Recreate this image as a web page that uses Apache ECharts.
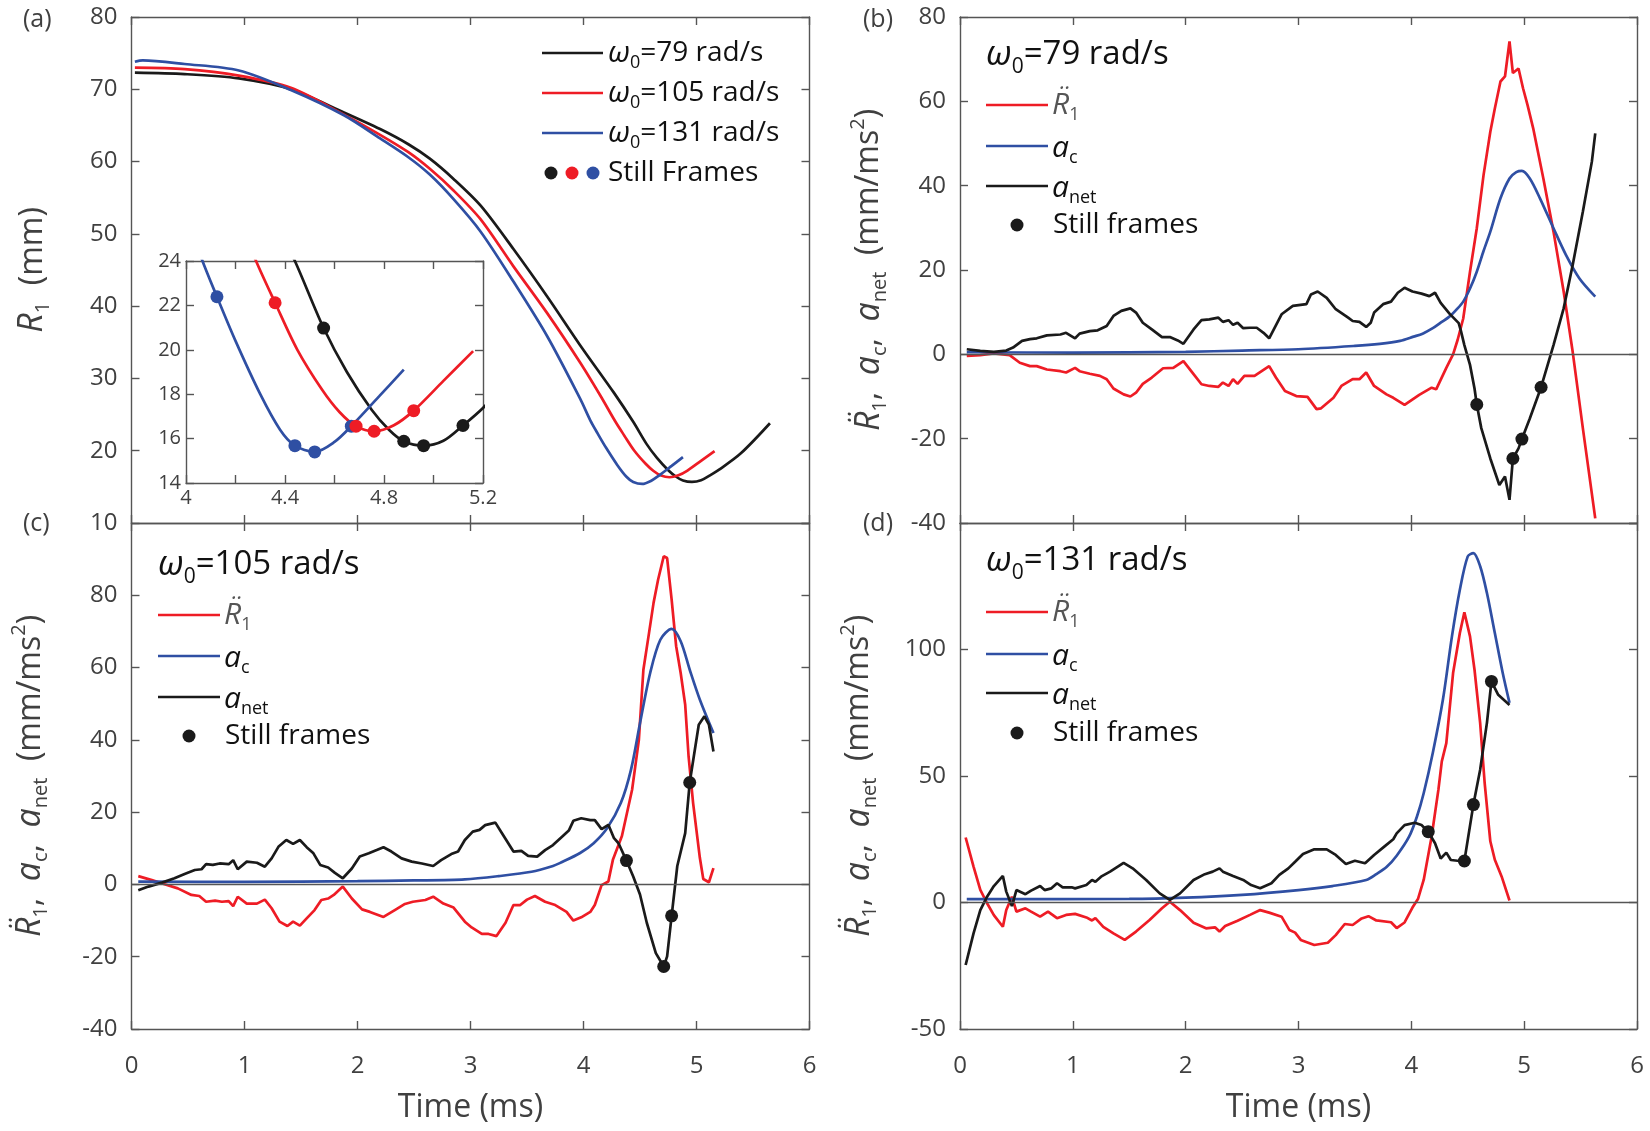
<!DOCTYPE html>
<html>
<head>
<meta charset="utf-8">
<script src="https://cdn.jsdelivr.net/npm/echarts@6.0.0/dist/echarts.min.js"></script>
<style>
  html, body { margin: 0; padding: 0; background: #fff; }
  #chart { width: 1650px; height: 1131px; }
</style>
</head>
<body>
<div id="chart"></div>
<script>
// ---- data: [time (ms), value] ----
// (a) bubble radius R1 (mm)
const r1W79 = [[0.03,72.3],[0.47,72.1],[0.95,71.5],[1.41,70.0],[1.88,66.8],[2.2,64.5],[2.45,62.4],[2.64,60.4],[2.85,57.6],[3.09,53.9],[3.38,47.9],[3.68,41.3],[3.97,34.6],[4.27,28.0],[4.44,24.0],[4.556,20.98],[4.65,19.0],[4.75,17.3],[4.82,16.4],[4.88,15.88],[4.96,15.68],[5.04,15.9],[5.119,16.59],[5.2,17.38],[5.39,19.6],[5.65,23.8]];
const r1W105 = [[0.03,73.0],[0.47,72.8],[0.95,71.9],[1.41,70.2],[1.88,66.5],[2.2,63.7],[2.45,61.3],[2.64,59.0],[2.85,56.0],[3.09,52.0],[3.38,45.5],[3.68,39.0],[3.97,32.2],[4.15,27.6],[4.283,24.0],[4.36,22.12],[4.45,20.0],[4.55,18.2],[4.62,17.2],[4.687,16.56],[4.76,16.33],[4.84,16.6],[4.92,17.26],[5.04,18.6],[5.16,19.94]];
const r1W131 = [[0.03,73.8],[0.1,74.0],[0.47,73.5],[0.95,72.6],[1.41,69.9],[1.88,66.4],[2.2,63.2],[2.45,60.6],[2.64,58.2],[2.85,54.8],[3.09,50.3],[3.38,43.4],[3.68,35.8],[3.97,27.2],[4.06,24.2],[4.125,22.39],[4.2,20.4],[4.3,18.0],[4.38,16.4],[4.44,15.68],[4.52,15.40],[4.6,15.85],[4.668,16.56],[4.78,17.9],[4.88,19.11]];
const framesA79 = [[4.556,20.98],[4.88,15.88],[4.96,15.68],[5.119,16.59]];
const framesA105 = [[4.36,22.12],[4.687,16.56],[4.76,16.33],[4.92,17.26]];
const framesA131 = [[4.125,22.39],[4.44,15.68],[4.52,15.40],[4.668,16.56]];

// (b) omega0 = 79 rad/s
const rddW79 = [[0.06,-0.4],[0.18,-0.2],[0.30,0.2],[0.44,-0.2],[0.53,-2.0],[0.62,-2.8],[0.68,-2.8],[0.77,-3.6],[0.89,-4.0],[0.94,-4.3],[1.02,-3.2],[1.06,-4.0],[1.15,-4.6],[1.24,-5.1],[1.30,-5.9],[1.36,-8.1],[1.45,-9.5],[1.51,-10.0],[1.56,-9.1],[1.62,-7.0],[1.70,-5.5],[1.80,-3.3],[1.89,-3.2],[1.98,-1.6],[2.07,-4.7],[2.14,-7.1],[2.21,-7.5],[2.29,-7.7],[2.33,-6.7],[2.38,-7.5],[2.42,-5.9],[2.46,-7.0],[2.52,-5.1],[2.61,-5.1],[2.74,-2.8],[2.80,-5.5],[2.88,-8.7],[2.98,-9.9],[3.08,-10.1],[3.16,-13.0],[3.20,-12.8],[3.31,-10.3],[3.38,-7.5],[3.48,-5.9],[3.54,-5.9],[3.60,-4.3],[3.67,-7.5],[3.78,-9.5],[3.84,-10.3],[3.94,-12.0],[4.07,-9.6],[4.18,-7.9],[4.22,-8.3],[4.31,-3.2],[4.37,0.0],[4.41,3.4],[4.46,8.5],[4.52,19.6],[4.58,29.9],[4.64,42.5],[4.70,52.8],[4.74,58.3],[4.79,64.7],[4.83,65.9],[4.87,74.2],[4.90,66.7],[4.95,67.8],[4.99,63.1],[5.03,59.1],[5.08,53.6],[5.17,41.7],[5.26,29.1],[5.35,14.9],[5.43,0.6],[5.52,-17.5],[5.63,-38.9]];
const acW79 = [[0.06,0.5],[1.0,0.4],[2.0,0.6],[2.5,0.9],[3.0,1.2],[3.5,2.0],[3.72,2.5],[3.9,3.2],[4.02,4.2],[4.1,4.9],[4.19,6.2],[4.26,7.5],[4.34,9.0],[4.40,10.6],[4.46,12.5],[4.52,15.6],[4.58,19.6],[4.64,24.5],[4.70,29.1],[4.79,37.0],[4.87,41.7],[4.93,43.2],[4.98,43.5],[5.05,41.7],[5.14,37.0],[5.26,29.9],[5.37,23.6],[5.49,18.0],[5.63,13.7]];
const anetW79 = [[0.06,1.2],[0.18,0.8],[0.30,0.6],[0.41,0.9],[0.47,1.6],[0.55,3.2],[0.62,3.6],[0.68,3.8],[0.77,4.5],[0.89,4.7],[0.94,5.1],[1.02,3.8],[1.06,4.9],[1.15,5.5],[1.22,5.7],[1.30,6.7],[1.36,9.1],[1.43,10.3],[1.51,10.9],[1.56,9.9],[1.62,7.5],[1.70,5.9],[1.79,4.1],[1.86,4.1],[1.93,3.3],[1.98,2.5],[2.07,5.9],[2.14,8.1],[2.21,8.3],[2.29,8.7],[2.33,7.7],[2.38,8.1],[2.42,7.0],[2.46,7.5],[2.51,6.2],[2.57,6.3],[2.63,6.3],[2.69,5.1],[2.74,3.8],[2.85,9.5],[2.95,11.5],[3.07,11.9],[3.11,14.2],[3.17,14.9],[3.25,13.4],[3.33,10.7],[3.44,8.7],[3.48,7.9],[3.54,7.7],[3.60,6.5],[3.64,7.5],[3.67,9.9],[3.75,11.9],[3.82,12.5],[3.88,14.6],[3.94,15.8],[4.01,14.9],[4.09,14.4],[4.16,13.8],[4.21,14.6],[4.26,12.2],[4.34,9.6],[4.42,7.4],[4.44,5.5],[4.47,2.2],[4.52,-2.5],[4.56,-8.1],[4.58,-11.9],[4.62,-17.5],[4.70,-24.7],[4.78,-31.0],[4.83,-29.0],[4.87,-34.5],[4.90,-24.7],[4.95,-22.3],[4.98,-20.1],[5.05,-15.2],[5.15,-7.8],[5.26,2.2],[5.35,10.9],[5.43,21.2],[5.52,33.8],[5.60,45.7],[5.63,52.4]];
const framesW79 = [[4.58,-11.9],[4.90,-24.7],[4.98,-20.1],[5.15,-7.8]];

// (c) omega0 = 105 rad/s
const rddW105 = [[0.06,2.3],[0.18,1.2],[0.30,0],[0.41,-1.1],[0.53,-2.9],[0.60,-3.2],[0.66,-4.8],[0.74,-4.5],[0.80,-4.8],[0.86,-4.6],[0.90,-6.0],[0.94,-3.4],[1.02,-5.3],[1.11,-5.3],[1.18,-4.2],[1.24,-6.6],[1.31,-10.3],[1.38,-11.5],[1.43,-10.3],[1.49,-11.4],[1.55,-9.4],[1.62,-7.1],[1.68,-4.3],[1.74,-3.9],[1.79,-2.9],[1.87,-0.6],[1.95,-3.9],[2.04,-6.9],[2.11,-7.6],[2.23,-9.0],[2.33,-7.1],[2.42,-5.4],[2.49,-4.8],[2.60,-4.3],[2.67,-3.4],[2.76,-5.3],[2.85,-6.4],[2.95,-10.3],[3.01,-11.9],[3.10,-13.7],[3.16,-13.7],[3.23,-14.3],[3.31,-10.6],[3.38,-5.7],[3.44,-5.7],[3.50,-4.2],[3.57,-3.2],[3.66,-4.8],[3.75,-5.7],[3.85,-7.6],[3.91,-10.0],[3.98,-9.1],[4.06,-7.6],[4.10,-5.7],[4.16,-0.2],[4.22,0.8],[4.26,6.8],[4.34,13.4],[4.43,26.2],[4.49,40.0],[4.53,59.4],[4.58,69.6],[4.62,77.9],[4.66,84.3],[4.71,90.8],[4.74,90.3],[4.78,78.8],[4.82,65.9],[4.86,58.5],[4.90,49.7],[4.93,35.4],[4.97,22.5],[5.03,7.3],[5.06,1.5],[5.11,0.6],[5.15,4.5]];
const acW105 = [[0.06,0.75],[1.0,0.7],[2.0,0.9],[2.5,1.1],[2.95,1.4],[3.25,2.3],[3.54,3.5],[3.73,5.1],[3.79,5.9],[3.97,8.7],[4.09,11.4],[4.21,15.6],[4.33,22.5],[4.42,31.7],[4.50,44.6],[4.59,58.5],[4.68,67.7],[4.78,70.7],[4.86,67.3],[4.94,59.4],[5.03,51.1],[5.15,41.9]];
const anetW105 = [[0.06,-1.6],[0.15,-0.6],[0.27,0.5],[0.38,1.7],[0.47,2.9],[0.56,4.0],[0.62,4.2],[0.66,5.6],[0.72,5.4],[0.78,5.8],[0.86,5.6],[0.90,6.7],[0.94,4.2],[1.02,6.3],[1.11,6.0],[1.18,4.9],[1.24,7.2],[1.30,10.4],[1.37,12.3],[1.43,11.2],[1.49,12.3],[1.55,10.3],[1.61,8.6],[1.67,5.4],[1.74,4.7],[1.80,3.2],[1.87,1.7],[1.95,4.4],[2.02,7.7],[2.10,8.6],[2.17,9.5],[2.23,10.3],[2.30,9.1],[2.39,7.2],[2.48,6.3],[2.57,5.8],[2.67,5.1],[2.74,6.7],[2.83,8.4],[2.89,9.1],[2.95,12.3],[3.02,14.6],[3.08,15.1],[3.13,16.4],[3.22,17.1],[3.28,14.1],[3.38,9.1],[3.45,9.3],[3.51,7.9],[3.59,7.7],[3.66,9.5],[3.73,10.9],[3.81,13.2],[3.87,14.9],[3.91,17.6],[3.98,18.3],[4.06,17.8],[4.10,17.8],[4.16,15.3],[4.22,16.5],[4.27,12.8],[4.31,11.4],[4.38,6.6],[4.44,2.2],[4.50,-2.8],[4.56,-10.6],[4.64,-19.0],[4.71,-22.7],[4.74,-19.9],[4.78,-8.7],[4.83,5.1],[4.90,14.2],[4.94,28.2],[5.02,44.2],[5.07,46.5],[5.11,44.2],[5.15,36.8]];
const framesW105 = [[4.38,6.6],[4.71,-22.7],[4.78,-8.7],[4.94,28.2]];

// (d) omega0 = 131 rad/s
const rddW131 = [[0.05,25.7],[0.12,14.2],[0.18,5.0],[0.24,-0.3],[0.30,-5.0],[0.38,-9.6],[0.41,-3.0],[0.46,2.3],[0.50,-3.6],[0.58,-2.3],[0.63,-3.6],[0.71,-5.6],[0.78,-3.6],[0.86,-6.2],[0.94,-4.9],[1.02,-4.5],[1.12,-5.9],[1.17,-7.1],[1.20,-6.2],[1.27,-9.6],[1.36,-12.2],[1.46,-14.8],[1.56,-11.5],[1.68,-6.9],[1.79,-2.3],[1.86,0.3],[1.95,-3.0],[2.07,-8.0],[2.18,-10.2],[2.26,-9.8],[2.30,-11.5],[2.35,-9.3],[2.46,-7.2],[2.57,-4.9],[2.66,-3.0],[2.74,-4.0],[2.85,-5.6],[2.92,-10.9],[2.97,-11.9],[3.02,-14.8],[3.14,-16.8],[3.26,-15.9],[3.33,-12.9],[3.41,-8.5],[3.48,-8.9],[3.56,-6.3],[3.62,-5.4],[3.69,-7.1],[3.82,-7.8],[3.87,-10.1],[3.94,-7.9],[4.01,-2.0],[4.06,1.5],[4.11,9.0],[4.18,26.1],[4.24,44.6],[4.27,55.8],[4.31,63.0],[4.37,90.7],[4.43,106.5],[4.47,114.7],[4.52,105.2],[4.56,92.0],[4.61,70.9],[4.65,47.2],[4.70,24.2],[4.74,16.9],[4.80,10.3],[4.87,0.8]];
const acW131 = [[0.06,1.3],[1.5,1.4],[2.0,1.9],[2.5,3.0],[3.0,4.9],[3.3,6.5],[3.6,8.9],[3.69,11.2],[3.78,14.0],[3.87,18.5],[3.98,26.0],[4.05,34.0],[4.11,43.3],[4.19,59.1],[4.28,80.2],[4.36,105.2],[4.43,123.6],[4.50,136.8],[4.55,138.1],[4.61,132.9],[4.67,122.3],[4.74,106.5],[4.81,90.7],[4.87,78.9]];
const anetW131 = [[0.05,-24.7],[0.12,-12.2],[0.18,-3.0],[0.24,2.3],[0.30,6.5],[0.38,10.5],[0.41,4.3],[0.46,-1.4],[0.50,4.9],[0.58,3.3],[0.63,4.7],[0.71,6.5],[0.75,4.9],[0.81,5.6],[0.86,7.6],[0.91,6.0],[0.99,6.0],[1.02,5.6],[1.12,6.9],[1.17,8.9],[1.20,8.2],[1.25,10.2],[1.33,12.2],[1.45,15.7],[1.53,13.5],[1.65,8.9],[1.77,3.6],[1.86,1.0],[1.95,3.6],[2.07,8.9],[2.17,11.2],[2.24,12.2],[2.30,13.5],[2.33,12.2],[2.42,10.5],[2.51,8.9],[2.58,6.9],[2.66,5.6],[2.76,7.6],[2.83,10.9],[2.91,13.5],[2.97,16.1],[3.04,19.2],[3.14,21.0],[3.25,21.0],[3.33,18.8],[3.42,15.2],[3.50,16.5],[3.59,15.5],[3.67,18.8],[3.76,22.1],[3.84,25.0],[3.87,27.3],[3.94,30.6],[4.03,31.5],[4.09,30.6],[4.15,28.0],[4.21,23.4],[4.26,17.4],[4.31,19.7],[4.35,16.8],[4.41,16.5],[4.47,16.4],[4.55,38.7],[4.61,52.5],[4.67,71.0],[4.71,87.4],[4.77,82.1],[4.87,78.1]];
const framesW131 = [[4.15,28.0],[4.47,16.4],[4.55,38.7],[4.71,87.4]];

// tick values
const timeTicks = [0, 1, 2, 3, 4, 5, 6];
const r1Ticks = [10, 20, 30, 40, 50, 60, 70, 80];
const accTicksB = [-40, -20, 0, 20, 40, 60, 80];
const accTicksC = [-40, -20, 0, 20, 40, 60, 80, 100];
const accTicksD = [-50, 0, 50, 100, 150];
const insetTimeTicks = [4, 4.2, 4.4, 4.6, 4.8, 5.0, 5.2];
const insetR1Ticks = [14, 16, 18, 20, 22, 24];

const FONT = '"Open Sans", sans-serif';
const GREY = '#404040';
const AXIS = '#555555';
const RED = '#ee1c25';
const BLUE = '#2f4fa3';
const BLACK = '#1a1a1a';

const chart = echarts.init(document.getElementById('chart'));

const axisLine = { color: AXIS, width: 1.4 };
function makeAxis (gridIndex, position, ticks, label, extra) {
  return Object.assign({
    type: 'value',
    gridIndex: gridIndex,
    position: position,
    min: ticks[0],
    max: ticks[ticks.length - 1],
    interval: +(ticks[1] - ticks[0]).toFixed(6),
    axisLine: { show: true, onZero: false, lineStyle: axisLine },
    axisTick: { show: true, inside: true, length: 8, lineStyle: axisLine },
    axisLabel: label || { show: false },
    splitLine: { show: false }
  }, extra || {})
}

const tickLabel = { show: true, fontFamily: FONT, fontSize: 24, color: GREY, margin: 14 };
const xLabel = Object.assign({}, tickLabel, { margin: 25 });
const insetXLabel = {
  show: true, fontFamily: FONT, fontSize: 20, color: GREY, margin: 5,
  formatter: v => (Math.abs(v / 0.4 - Math.round(v / 0.4)) < 1e-6 ? String(+v.toFixed(1)) : '')
};
const insetYLabel = { show: true, fontFamily: FONT, fontSize: 20, color: GREY, margin: 5 };

const nameRich = {
  i: { fontFamily: FONT, fontSize: 34, fontStyle: 'italic', color: GREY },
  n: { fontFamily: FONT, fontSize: 32, color: GREY },
  s: { fontFamily: FONT, fontSize: 20, color: GREY, padding: [22, 0, 0, 0] },
  p: { fontFamily: FONT, fontSize: 20, color: GREY, padding: [0, 0, 22, 0] }
};
const accName = '{i|R\u0308}{s|1}{n|,  }{i|a}{s|c}{n|,  }{i|a}{s|net}{n|  (mm/ms}{p|2}{n|)}';
function yName (text, gap) {
  return { name: text, nameLocation: 'middle', nameGap: gap, nameRotate: 90,
    nameTextStyle: { rich: nameRich } }
}
const timeName = { name: 'Time (ms)', nameLocation: 'middle', nameGap: 63,
  nameTextStyle: { fontFamily: FONT, fontSize: 32, color: GREY } };

// g = grid index; bottom/left axes of grid g are at index 2*g
function line (data, color, g, extra) {
  return Object.assign({
    type: 'line', data: data, xAxisIndex: 2 * g, yAxisIndex: 2 * g,
    symbol: 'none', showSymbol: false, silent: true,
    lineStyle: { color: color, width: 2.7 }, itemStyle: { color: color }, z: 3
  }, extra || {})
}
function dots (data, color, g, z) {
  return { type: 'scatter', data: data, xAxisIndex: 2 * g, yAxisIndex: 2 * g, silent: true,
    symbolSize: 13, itemStyle: { color: color, opacity: 1 }, z: z || 6 }
}
const zeroLine = {
  silent: true, symbol: 'none', label: { show: false },
  lineStyle: { color: '#555', width: 1.3, type: 'solid' },
  data: [{ yAxis: 0 }]
};
const smoothR = { smooth: 0.3 };

// legend helpers (graphic)
const legRich = {
  i: { fontFamily: FONT, fontSize: 30, fontStyle: 'italic', fill: '#111' },
  g: { fontFamily: FONT, fontSize: 30, fontStyle: 'italic', fill: '#555' },
  n: { fontFamily: FONT, fontSize: 28, fill: '#111' },
  s: { fontFamily: FONT, fontSize: 18, fill: '#111', padding: [20, 0, 0, 0] },
  sg: { fontFamily: FONT, fontSize: 18, fill: '#555', padding: [20, 0, 0, 0] }
};
const titleRich = {
  i: { fontFamily: FONT, fontSize: 35, fontStyle: 'italic', fill: '#111' },
  n: { fontFamily: FONT, fontSize: 33, fill: '#111' },
  s: { fontFamily: FONT, fontSize: 21, fill: '#111', padding: [24, 0, 0, 0] }
};
function gText (x, y, text, rich, size, color) {
  return { type: 'text', x: x, y: y, z: 100, silent: true,
    style: { text: text, rich: rich, fill: color || '#111', font: size + 'px ' + FONT,
      align: 'left', verticalAlign: 'middle' } }
}
function gLine (x1, x2, y, color) {
  return { type: 'line', z: 100, silent: true, shape: { x1: x1, y1: y, x2: x2, y2: y },
    style: { stroke: color, lineWidth: 2.7 } }
}
function gDot (x, y, color) {
  return { type: 'circle', z: 100, silent: true, shape: { cx: x, cy: y, r: 6.5 }, style: { fill: color } }
}
function accLegend (x, rows, titleY, omega) {
  const lx = x + 62;
  return [
    gText(x, titleY, '{i|\u03c9}{s|0}{n|=' + omega + ' rad/s}', titleRich, 33),
    gLine(x, lx, rows[0], RED), gText(lx + 4, rows[0], '{g|R\u0308}{sg|1}', legRich, 28),
    gLine(x, lx, rows[1], BLUE), gText(lx + 4, rows[1] + 2, '{i|a}{s|c}', legRich, 28),
    gLine(x, lx, rows[2], BLACK), gText(lx + 4, rows[2] + 2, '{i|a}{s|net}', legRich, 28),
    gDot(x + 31, rows[3], BLACK), gText(lx + 5, rows[3], '{n|Still frames}', legRich, 28)
  ]
}

const graphic = [
  gText(23, 20, '(a)', null, 25, GREY), gText(863, 20, '(b)', null, 25, GREY),
  gText(23, 524, '(c)', null, 25, GREY), gText(863, 524, '(d)', null, 25, GREY),
  gLine(542, 603, 53, BLACK), gText(608, 53, '{i|\u03c9}{s|0}{n|=79 rad/s}', legRich, 28),
  gLine(542, 603, 93, RED), gText(608, 93, '{i|\u03c9}{s|0}{n|=105 rad/s}', legRich, 28),
  gLine(542, 603, 133, BLUE), gText(608, 133, '{i|\u03c9}{s|0}{n|=131 rad/s}', legRich, 28),
  gDot(551, 173, BLACK), gDot(572, 173, RED), gDot(593, 173, BLUE),
  gText(608, 173, '{n|Still Frames}', legRich, 28)
].concat(
  accLegend(986, [105, 146, 186, 225], 55, '79'),
  accLegend(158, [615, 656, 697, 736], 565, '105'),
  accLegend(986, [612, 654, 693, 733], 561, '131')
);

const option = {
  animation: false,
  backgroundColor: '#fff',
  grid: [
    { left: 131.5, top: 17, width: 678, height: 506 },
    { left: 960, top: 17, width: 677, height: 506 },
    { left: 131.5, top: 523, width: 678, height: 506 },
    { left: 960, top: 523, width: 677, height: 506 },
    { left: 186, top: 261, width: 297, height: 222, show: true, backgroundColor: '#fff', borderWidth: 0, z: 5 }
  ],
  xAxis: [
    makeAxis(0, 'bottom', timeTicks), makeAxis(0, 'top', timeTicks),
    makeAxis(1, 'bottom', timeTicks), makeAxis(1, 'top', timeTicks),
    makeAxis(2, 'bottom', timeTicks, xLabel, timeName), makeAxis(2, 'top', timeTicks),
    makeAxis(3, 'bottom', timeTicks, xLabel, timeName), makeAxis(3, 'top', timeTicks),
    makeAxis(4, 'bottom', insetTimeTicks, insetXLabel, { z: 6 }),
    makeAxis(4, 'top', insetTimeTicks, null, { z: 6 })
  ],
  yAxis: [
    makeAxis(0, 'left', r1Ticks, tickLabel, yName('{i|R}{s|1}{n|  (mm)}', 78)), makeAxis(0, 'right', r1Ticks),
    makeAxis(1, 'left', accTicksB, tickLabel, yName(accName, 70)), makeAxis(1, 'right', accTicksB),
    makeAxis(2, 'left', accTicksC, Object.assign({ showMaxLabel: false }, tickLabel), yName(accName, 80)),
    makeAxis(2, 'right', accTicksC),
    makeAxis(3, 'left', accTicksD, Object.assign({ showMaxLabel: false }, tickLabel), yName(accName, 80)),
    makeAxis(3, 'right', accTicksD),
    makeAxis(4, 'left', insetR1Ticks, insetYLabel, { z: 6 }),
    makeAxis(4, 'right', insetR1Ticks, null, { z: 6 })
  ],
  series: [
    // (a)
    line(r1W79, BLACK, 0, smoothR), line(r1W105, RED, 0, smoothR), line(r1W131, BLUE, 0, smoothR),
    // inset of (a)
    line(r1W79, BLACK, 4, Object.assign({ z: 7 }, smoothR)),
    line(r1W105, RED, 4, Object.assign({ z: 7 }, smoothR)),
    line(r1W131, BLUE, 4, Object.assign({ z: 7 }, smoothR)),
    dots(framesA131, BLUE, 4, 8), dots(framesA79, BLACK, 4, 8), dots(framesA105, RED, 4, 8),
    // (b)
    line(rddW79, RED, 1, { markLine: zeroLine }),
    line(acW79, BLUE, 1, { smooth: 0.3 }),
    line(anetW79, BLACK, 1),
    dots(framesW79, BLACK, 1),
    // (c)
    line(rddW105, RED, 2, { markLine: zeroLine }),
    line(acW105, BLUE, 2, { smooth: 0.3 }),
    line(anetW105, BLACK, 2),
    dots(framesW105, BLACK, 2),
    // (d)
    line(rddW131, RED, 3, { markLine: zeroLine }),
    line(acW131, BLUE, 3, { smooth: 0.3 }),
    line(anetW131, BLACK, 3),
    dots(framesW131, BLACK, 3)
  ],
  graphic: graphic
};

chart.setOption(option);
</script>
</body>
</html>
